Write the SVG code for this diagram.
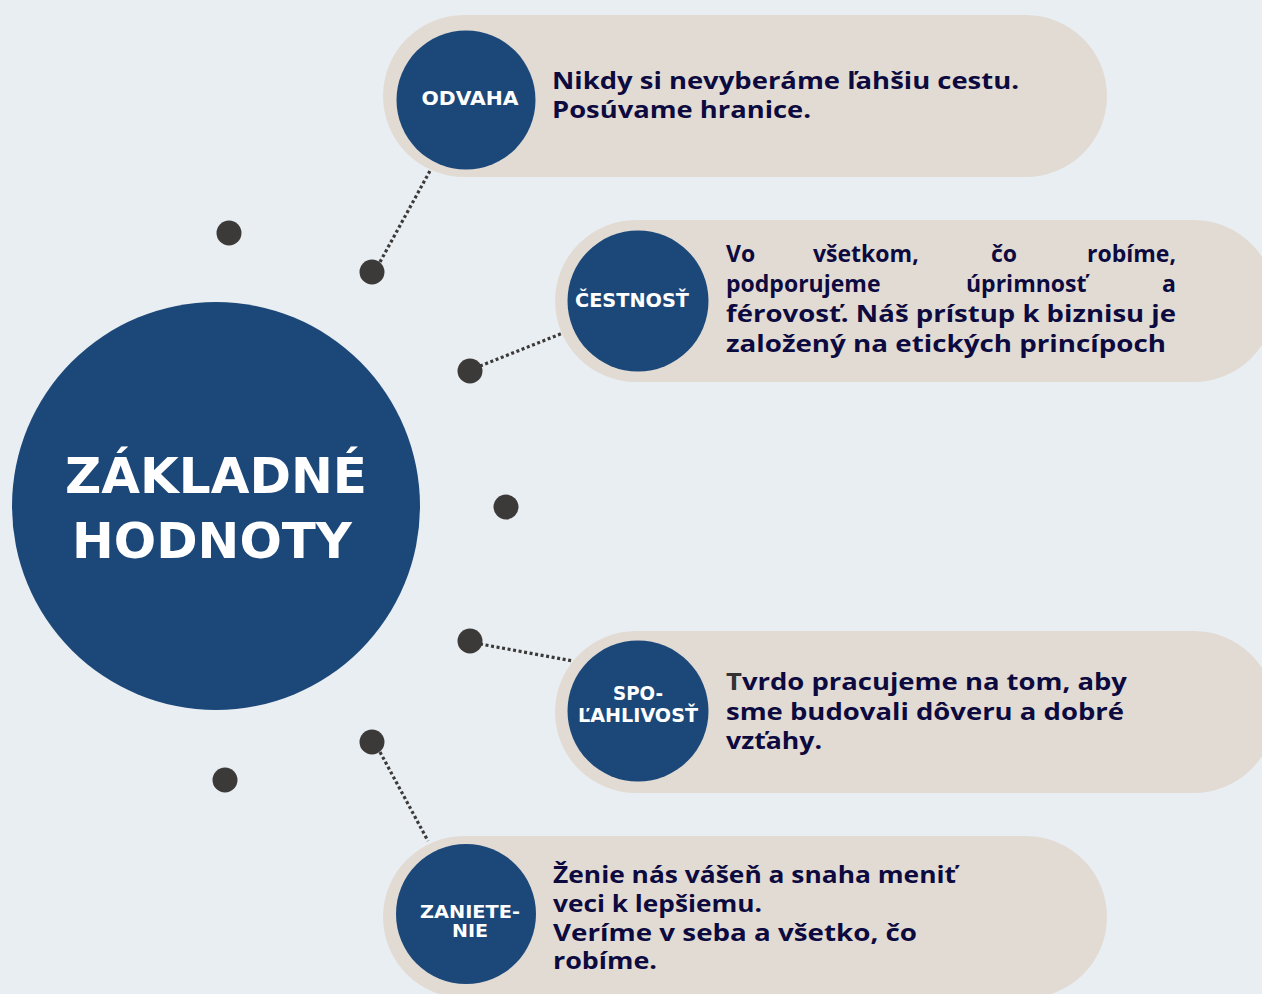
<svg xmlns="http://www.w3.org/2000/svg" width="1262" height="994" viewBox="0 0 1262 994">
<style>
.pill{fill:#e2dbd4}
.badge{fill:#1b4879}
.dot{fill:#3c3a39}
.lbl{font-family:"DejaVu Sans","Liberation Sans",sans-serif;font-weight:bold;fill:#ffffff;text-anchor:middle}
.body{font-family:"Open Sans","DejaVu Sans",sans-serif;font-weight:bold;font-size:23px;fill:#0c0a3e}
.title{font-family:"DejaVu Sans","Liberation Sans",sans-serif;font-weight:bold;font-size:50px;fill:#ffffff;text-anchor:middle}
.conn{stroke:#3c3a39;stroke-width:3.2;stroke-dasharray:3 2.6;fill:none}
</style>
<rect width="1262" height="994" fill="#e9eef2"/>

<g id="center">
<circle cx="216" cy="506" r="204" class="badge"/>
<text class="title" x="216" y="493" textLength="302" lengthAdjust="spacingAndGlyphs">ZÁKLADNÉ</text>
<text class="title" x="212" y="558" textLength="280" lengthAdjust="spacingAndGlyphs">HODNOTY</text>
</g>

<g id="connectors">
<line class="conn" x1="380" y1="262" x2="431" y2="169"/>
<line class="conn" x1="480" y1="366" x2="563" y2="333"/>
<line class="conn" x1="480" y1="644" x2="573" y2="661"/>
<line class="conn" x1="380" y1="752" x2="428" y2="841"/>
</g>

<g id="dots">
<circle class="dot" cx="229" cy="233" r="12.5"/>
<circle class="dot" cx="372" cy="272" r="12.5"/>
<circle class="dot" cx="470" cy="371" r="12.5"/>
<circle class="dot" cx="506" cy="507" r="12.5"/>
<circle class="dot" cx="470" cy="641" r="12.5"/>
<circle class="dot" cx="372" cy="742" r="12.5"/>
<circle class="dot" cx="225" cy="780" r="12.5"/>
</g>

<g id="odvaha">
<rect class="pill" x="383" y="15" width="724" height="162" rx="81"/>
<circle class="badge" cx="466" cy="100" r="69.5"/>
<text class="lbl" x="470" y="105" font-size="19" textLength="97" lengthAdjust="spacingAndGlyphs">ODVAHA</text>
<text class="body" x="552" y="89" textLength="467" lengthAdjust="spacingAndGlyphs">Nikdy si nevyberáme ľahšiu cestu.</text>
<text class="body" x="552" y="118" textLength="259" lengthAdjust="spacingAndGlyphs">Posúvame hranice.</text>
</g>

<g id="cestnost">
<rect class="pill" x="555" y="220" width="720" height="162" rx="81"/>
<circle class="badge" cx="638" cy="301" r="70.5"/>
<text class="lbl" x="632" y="307" font-size="20" textLength="114" lengthAdjust="spacingAndGlyphs">ČESTNOSŤ</text>
<text class="body" x="726" y="262">Vo</text>
<text class="body" x="813" y="262">všetkom,</text>
<text class="body" x="991" y="262">čo</text>
<text class="body" x="1176" y="262" text-anchor="end">robíme,</text>
<text class="body" x="726" y="292">podporujeme</text>
<text class="body" x="966" y="292">úprimnosť</text>
<text class="body" x="1176" y="292" text-anchor="end">a</text>
<text class="body" x="726" y="322" textLength="450" lengthAdjust="spacingAndGlyphs">férovosť. Náš prístup k biznisu je</text>
<text class="body" x="726" y="352" textLength="440" lengthAdjust="spacingAndGlyphs">založený na etických princípoch</text>
</g>

<g id="spolahlivost">
<rect class="pill" x="555" y="631" width="720" height="162" rx="81"/>
<circle class="badge" cx="638" cy="711" r="70.5"/>
<text class="lbl" x="638" y="700" font-size="19" textLength="50" lengthAdjust="spacingAndGlyphs">SPO-</text>
<text class="lbl" x="638" y="722" font-size="19" textLength="120" lengthAdjust="spacingAndGlyphs">ĽAHLIVOSŤ</text>
<text class="body" x="726" y="690" textLength="401" lengthAdjust="spacingAndGlyphs"><tspan fill="#333333">T</tspan>vrdo pracujeme na tom, aby</text>
<text class="body" x="726" y="720" textLength="398" lengthAdjust="spacingAndGlyphs">sme budovali dôveru a dobré</text>
<text class="body" x="726" y="749" textLength="96" lengthAdjust="spacingAndGlyphs">vzťahy.</text>
</g>

<g id="zanietenie">
<rect class="pill" x="383" y="836" width="724" height="162" rx="81"/>
<circle class="badge" cx="466" cy="914" r="70"/>
<text class="lbl" x="470" y="918" font-size="18" textLength="100" lengthAdjust="spacingAndGlyphs">ZANIETE-</text>
<text class="lbl" x="470" y="937" font-size="18" textLength="36" lengthAdjust="spacingAndGlyphs">NIE</text>
<text class="body" x="553" y="883" textLength="403" lengthAdjust="spacingAndGlyphs">Ženie nás vášeň a snaha meniť</text>
<text class="body" x="553" y="912" textLength="209" lengthAdjust="spacingAndGlyphs">veci k lepšiemu.</text>
<text class="body" x="553" y="941" textLength="364" lengthAdjust="spacingAndGlyphs">Veríme v seba a všetko, čo</text>
<text class="body" x="553" y="969" textLength="104" lengthAdjust="spacingAndGlyphs">robíme.</text>
</g>
</svg>
